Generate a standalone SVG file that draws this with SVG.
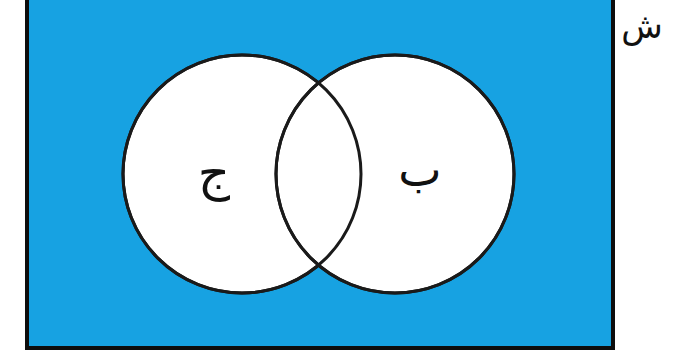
<svg xmlns="http://www.w3.org/2000/svg" width="694" height="356" viewBox="0 0 694 356">
<style>
.set{fill:#ffffff;stroke:#1a1a1a;stroke-width:3}
.lbl{font-family:"DejaVu Sans",sans-serif;fill:#111;text-anchor:middle}
</style>
<rect width="694" height="356" fill="#ffffff"/>
<g id="universe">
<rect x="27" y="-3" width="586" height="351" fill="#17a2e2" stroke="#0d0d0d" stroke-width="4"/>
<text class="lbl" x="642" y="38" font-size="34">ش</text>
</g>
<g id="setJ">
<circle class="set" cx="242" cy="174" r="119"/>
</g>
<g id="setB">
<circle class="set" cx="395" cy="174" r="119"/>
</g>
<g id="outlines">
<circle cx="242" cy="174" r="119" fill="none" stroke="#1a1a1a" stroke-width="3"/>
<circle cx="395" cy="174" r="119" fill="none" stroke="#1a1a1a" stroke-width="3"/>
</g>
<text class="lbl" x="214" y="190" font-size="50">ج</text>
<text class="lbl" x="420" y="186" font-size="46">ب</text>
</svg>
